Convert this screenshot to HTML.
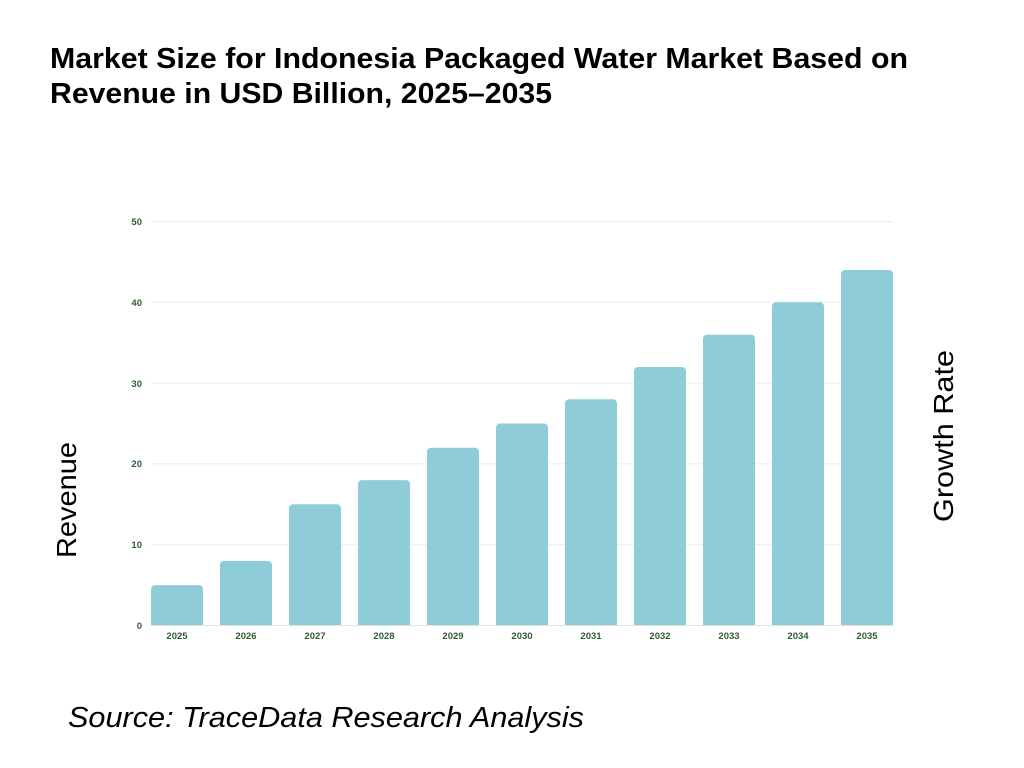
<!DOCTYPE html>
<html>
<head>
<meta charset="utf-8">
<style>
html,body{margin:0;padding:0;background:#fff;}
svg{display:block;}
</style>
</head>
<body>
<svg width="1024" height="768" viewBox="0 0 1024 768" xmlns="http://www.w3.org/2000/svg">
<rect width="1024" height="768" fill="#fff"/>
<g font-family="Liberation Sans, sans-serif" font-weight="bold" fill="#000">
<text x="50" y="68" font-size="29" textLength="858" lengthAdjust="spacingAndGlyphs">Market Size for Indonesia Packaged Water Market Based on</text>
<text x="50" y="103" font-size="29" textLength="502" lengthAdjust="spacingAndGlyphs">Revenue in USD Billion, 2025–2035</text>
</g>
<!-- gridlines -->
<g stroke="#ececec" stroke-width="1">
<line x1="151" y1="221.5" x2="893" y2="221.5"/>
<line x1="151" y1="302.3" x2="893" y2="302.3"/>
<line x1="151" y1="383.1" x2="893" y2="383.1"/>
<line x1="151" y1="463.9" x2="893" y2="463.9"/>
<line x1="151" y1="544.7" x2="893" y2="544.7"/>
<line x1="151" y1="625.5" x2="893" y2="625.5" stroke="#e2e2e2"/>
</g>
<!-- y tick labels -->
<g font-family="Liberation Sans, sans-serif" font-weight="bold" font-size="9.5" fill="#2e5e2e" text-anchor="end">
<text x="142" y="225">50</text>
<text x="142" y="306">40</text>
<text x="142" y="387">30</text>
<text x="142" y="467">20</text>
<text x="142" y="548">10</text>
<text x="142" y="629">0</text>
</g>
<!-- bars -->
<g fill="#8ecdd8">
<path d="M151,625 V589.1 a4,4 0 0 1 4,-4 H199 a4,4 0 0 1 4,4 V625 Z"/>
<path d="M220,625 V564.9 a4,4 0 0 1 4,-4 H268 a4,4 0 0 1 4,4 V625 Z"/>
<path d="M289,625 V508.3 a4,4 0 0 1 4,-4 H337 a4,4 0 0 1 4,4 V625 Z"/>
<path d="M358,625 V484.1 a4,4 0 0 1 4,-4 H406 a4,4 0 0 1 4,4 V625 Z"/>
<path d="M427,625 V451.8 a4,4 0 0 1 4,-4 H475 a4,4 0 0 1 4,4 V625 Z"/>
<path d="M496,625 V427.5 a4,4 0 0 1 4,-4 H544 a4,4 0 0 1 4,4 V625 Z"/>
<path d="M565,625 V403.3 a4,4 0 0 1 4,-4 H613 a4,4 0 0 1 4,4 V625 Z"/>
<path d="M634,625 V371.0 a4,4 0 0 1 4,-4 H682 a4,4 0 0 1 4,4 V625 Z"/>
<path d="M703,625 V338.6 a4,4 0 0 1 4,-4 H751 a4,4 0 0 1 4,4 V625 Z"/>
<path d="M772,625 V306.3 a4,4 0 0 1 4,-4 H820 a4,4 0 0 1 4,4 V625 Z"/>
<path d="M841,625 V274.0 a4,4 0 0 1 4,-4 H889 a4,4 0 0 1 4,4 V625 Z"/>
</g>
<!-- x labels -->
<g font-family="Liberation Sans, sans-serif" font-weight="bold" font-size="9.5" fill="#2e5e2e" text-anchor="middle">
<text x="177" y="639">2025</text>
<text x="246" y="639">2026</text>
<text x="315" y="639">2027</text>
<text x="384" y="639">2028</text>
<text x="453" y="639">2029</text>
<text x="522" y="639">2030</text>
<text x="591" y="639">2031</text>
<text x="660" y="639">2032</text>
<text x="729" y="639">2033</text>
<text x="798" y="639">2034</text>
<text x="867" y="639">2035</text>
</g>
<!-- axis titles -->
<g font-family="Liberation Sans, sans-serif" font-size="28" fill="#000" text-anchor="middle">
<text transform="translate(76,500) rotate(-90)" textLength="116" lengthAdjust="spacingAndGlyphs">Revenue</text>
<text transform="translate(953,436) rotate(-90)" textLength="172" lengthAdjust="spacingAndGlyphs">Growth Rate</text>
</g>
<text x="68" y="727" font-family="Liberation Sans, sans-serif" font-style="italic" font-size="29" fill="#000" textLength="516" lengthAdjust="spacingAndGlyphs">Source: TraceData Research Analysis</text>
</svg>
</body>
</html>
